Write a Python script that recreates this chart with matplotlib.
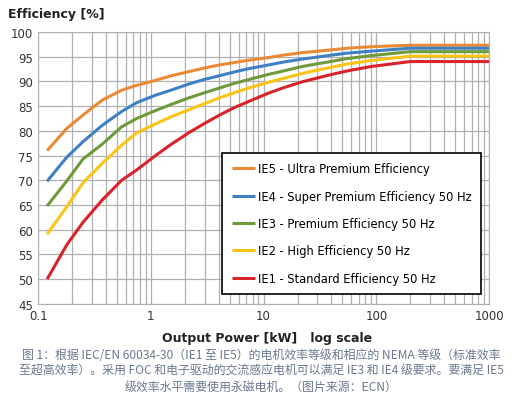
import matplotlib
matplotlib.use("Agg")
import matplotlib.pyplot as plt
from matplotlib.ticker import FixedLocator, NullFormatter, FixedFormatter

plt.rcParams['font.family'] = ['DejaVu Sans', 'Noto Sans CJK SC']

power = [0.12, 0.18, 0.25, 0.37, 0.55, 0.75, 1.1, 1.5, 2.2, 3, 4, 5.5, 7.5, 11,
         15, 22, 37, 55, 90, 200, 1000]
ie5 = [76, 80.5, 83.2, 86.2, 88.2, 89.2, 90.2, 91.1, 92.0, 92.7, 93.3, 93.8, 94.3,
       94.8, 95.3, 95.8, 96.3, 96.7, 97.0, 97.3, 97.3]
ie4 = [69.8, 74.7, 77.8, 81.1, 83.9, 85.7, 87.2, 88.2, 89.5, 90.4, 91.1, 91.9, 92.6,
       93.3, 93.9, 94.5, 95.2, 95.7, 96.1, 96.7, 96.7]
ie3 = [64.8, 69.9, 74.3, 77.3, 80.8, 82.5, 84.1, 85.3, 86.7, 87.7, 88.6, 89.6, 90.4,
       91.4, 92.1, 93.0, 93.9, 94.6, 95.2, 96.0, 96.0]
ie2 = [59.1, 64.7, 69.5, 73.4, 77.1, 79.6, 81.4, 82.8, 84.3, 85.5, 86.6, 87.7, 88.7,
       89.8, 90.6, 91.6, 92.7, 93.5, 94.2, 95.1, 95.1]
ie1 = [50.0, 57.0, 61.5, 66.0, 70.0, 72.1, 75.0, 77.2, 79.7, 81.5, 83.1, 84.7, 86.0,
       87.6, 88.7, 89.9, 91.2, 92.1, 93.0, 94.0, 94.0]
labels = ["IE5 - Ultra Premium Efficiency",
          "IE4 - Super Premium Efficiency 50 Hz",
          "IE3 - Premium Efficiency 50 Hz",
          "IE2 - High Efficiency 50 Hz",
          "IE1 - Standard Efficiency 50 Hz"]
colors = ["#ea8a35", "#3f7fc4", "#6e9a3c", "#f9c416", "#d8232a"]
caption = ("图 1：根据 IEC/EN 60034-30（IE1 至 IE5）的电机效率等级和相应的 NEMA 等级（标准效率\n"
           "至超高效率）。采用 FOC 和电子驱动的交流感应电机可以满足 IE3 和 IE4 级要求。要满足 IE5\n"
           "级效率水平需要使用永磁电机。（图片来源：ECN）")

fig = plt.figure(figsize=(5.23, 4.06), dpi=100)
ax = fig.add_axes([0.073, 0.249, 0.862, 0.670])
for series, lab, c in zip([ie5, ie4, ie3, ie2, ie1], labels, colors):
    ax.plot(power, series, color=c, lw=2.2, label=lab, solid_capstyle='butt')

ax.set_xscale('log')
ax.set_xlim(0.1, 1000)
ax.set_ylim(45, 100)
ax.set_yticks(range(45, 101, 5))
ax.xaxis.set_major_locator(FixedLocator([0.1, 1, 10, 100, 1000]))
ax.xaxis.set_major_formatter(FixedFormatter(["0.1", "1", "10", "100", "1000"]))
ax.xaxis.set_minor_formatter(NullFormatter())
ax.grid(True, which='both', axis='x', color='#b0b0b0', lw=0.9)
ax.grid(True, which='major', axis='y', color='#b0b0b0', lw=0.9)
ax.tick_params(which='both', length=0, labelsize=8.5, colors='#333333')
for s in ax.spines.values():
    s.set_color('#b0b0b0')

leg = ax.legend(loc='lower right', bbox_to_anchor=(0.995, 0.015), fontsize=8.3,
                frameon=True, fancybox=False, handlelength=2.0, labelspacing=1.25,
                borderpad=0.8, handletextpad=0.3)
leg.get_frame().set_edgecolor('black')
leg.get_frame().set_linewidth(1.2)
leg.get_frame().set_alpha(1)

fig.text(0.015, 0.965, "Efficiency [%]", fontsize=9, fontweight='bold',
         color='#222222', va='center')
fig.text(0.51, 0.167, "Output Power [kW]   log scale", fontsize=9,
         fontweight='bold', color='#222222', ha='center', va='center')
fig.text(0.5, 0.085, caption, fontsize=8.6, color='#6a7890', ha='center',
         va='center', linespacing=1.3,
         family=['Noto Sans CJK SC', 'DejaVu Sans'])

fig.savefig("out.png", dpi=100)
